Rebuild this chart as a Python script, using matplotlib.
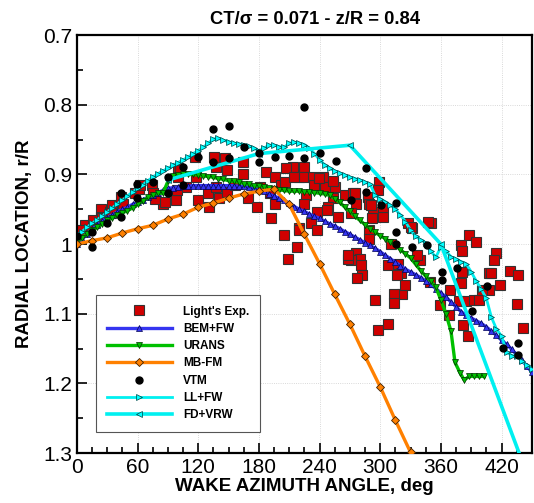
import numpy as np
import matplotlib
matplotlib.use('Agg')
import matplotlib.pyplot as plt

plt.rcParams['font.family'] = ['Liberation Sans', 'DejaVu Sans']

# Light's experiment (azimuth deg, r/R)
exp_psi = [8, 18, 24, 24, 33, 35, 44, 46, 57, 61, 74, 75, 85, 98, 100, 100, 108, 117, 118, 120,
           130, 131, 136, 138, 138, 141, 146, 148, 148, 156, 164, 164, 169, 178, 181, 187, 191, 192,
           196, 196, 202, 205, 209, 214, 218, 220, 220,
           207, 206, 215, 225, 225, 234, 235, 243, 245, 255, 253, 265, 273, 276, 288, 289, 299, 298,
           293, 303, 303, 248, 258, 227, 225, 237, 232, 237, 220, 276, 280, 281, 271, 308, 318, 321,
           327, 331, 339, 350, 380, 381, 388, 395, 415, 413, 428, 436, 408,
           268, 282, 277, 317, 322, 325, 314, 314, 295, 298, 308, 359, 369, 381, 380, 378, 382, 387,
           385, 393, 398, 410, 408, 418, 435, 441, 401, 368, 349,
           239, 253, 275, 291, 292, 247, 271, 289, 289, 311, 268, 347, 330, 336,
           4, 16, 25, 34, 62, 77, 87, 99, 102]
exp_r = [0.973, 0.968, 0.949, 0.961, 0.954, 0.944, 0.932, 0.942, 0.927, 0.921, 0.915, 0.926, 0.942,
         0.937, 0.891, 0.903, 0.918, 0.875, 0.903, 0.937, 0.927, 0.946, 0.875, 0.889, 0.918, 0.934,
         0.877, 0.894, 0.925, 0.915, 0.882, 0.899, 0.934, 0.946, 0.918, 0.896, 0.927, 0.963, 0.903,
         0.942, 0.915, 0.987, 1.021, 0.889, 1.004, 0.903, 0.977,
         0.891, 0.911, 0.903, 0.889, 0.903, 0.903, 0.915, 0.903, 0.918, 0.918, 0.934, 0.930, 0.927,
         0.942, 0.932, 0.942, 0.911, 0.922, 0.954, 0.961, 0.946, 0.946, 0.961, 0.930, 0.942, 0.954,
         0.970, 0.980, 0.980, 1.013, 1.021, 1.030, 1.023, 1.030, 1.028, 1.042, 0.970, 0.977, 1.023,
         0.970, 1.002, 1.010, 0.987, 0.997, 1.013, 1.023, 1.038, 1.044, 1.042,
         1.021, 1.044, 1.049, 1.044, 1.071, 1.059, 1.071, 1.085, 1.080, 1.123, 1.115, 1.088, 1.066,
         1.040, 1.056, 1.081, 1.116, 1.132, 1.081, 1.080, 1.080, 1.042, 1.066, 1.059, 1.086, 1.121,
         1.066, 1.102, 1.054,
         0.905, 0.910, 0.927, 0.944, 0.963, 0.951, 0.956, 0.980, 0.992, 1.000, 1.015, 0.968, 0.975,
         1.015,
         0.980, 0.966, 0.962, 0.956, 0.915, 0.935, 0.939, 0.922, 0.894]

# BEM+FW
bem_psi = list(range(0, 455, 5))
bem_r = [1.000, 0.993, 0.986, 0.979, 0.973, 0.967, 0.962, 0.958, 0.954, 0.950, 0.947, 0.943, 0.940,
         0.936, 0.933, 0.929, 0.926, 0.923, 0.920, 0.919, 0.918, 0.917, 0.917, 0.916, 0.916, 0.916,
         0.916, 0.916, 0.916, 0.916, 0.916, 0.916, 0.917, 0.917, 0.918, 0.919, 0.921, 0.924, 0.928,
         0.931, 0.934, 0.937, 0.941, 0.946, 0.950, 0.953, 0.957, 0.960, 0.963, 0.967, 0.971, 0.974,
         0.978, 0.982, 0.986, 0.990, 0.994, 0.998, 1.002, 1.006, 1.011, 1.016, 1.021, 1.026, 1.031,
         1.036, 1.040, 1.044, 1.048, 1.053, 1.058, 1.064, 1.070, 1.076, 1.083, 1.090, 1.097, 1.102,
         1.106, 1.110, 1.114, 1.119, 1.125, 1.131, 1.138, 1.144, 1.151, 1.159, 1.167, 1.175, 1.184]

# URANS
urans_psi = list(range(0, 375, 5)) + [374, 379, 383, 388, 393, 398, 403]
urans_psi = sorted(set(urans_psi))
urans_r = [0.997, 0.991, 0.985, 0.980, 0.976, 0.971, 0.966, 0.962, 0.958, 0.955, 0.952, 0.948, 0.943,
           0.938, 0.933, 0.929, 0.927, 0.927, 0.910, 0.902, 0.901, 0.900, 0.900, 0.900, 0.901, 0.902,
           0.903, 0.904, 0.906, 0.907, 0.909, 0.910, 0.911, 0.913, 0.914, 0.916, 0.917, 0.918, 0.919,
           0.921, 0.922, 0.923, 0.924, 0.924, 0.924, 0.925, 0.925, 0.926, 0.927, 0.928, 0.930, 0.935,
           0.940, 0.947, 0.953, 0.960, 0.966, 0.972, 0.978, 0.983, 0.988, 0.992, 0.997, 1.002, 1.008,
           1.014, 1.020, 1.029, 1.038, 1.046, 1.053, 1.062, 1.080, 1.100, 1.125,
           1.170, 1.185, 1.195, 1.190, 1.190, 1.190, 1.190]

# MB-FM
mbfm_psi = [0, 15, 30, 45, 60, 75, 90, 105, 120, 135, 150, 165, 180, 195, 210, 225, 240, 255, 270,
            285, 300, 315, 330]
mbfm_r = [1.000, 0.995, 0.991, 0.984, 0.978, 0.973, 0.964, 0.957, 0.947, 0.941, 0.934, 0.928, 0.924,
          0.921, 0.943, 0.986, 1.028, 1.072, 1.115, 1.161, 1.205, 1.253, 1.299]

# VTM
vtm_psi = [0, 15, 15, 30, 44, 44, 59, 59, 75, 90, 90, 105, 105, 120, 135, 135, 150, 150, 165, 180,
           180, 196, 210, 225, 225, 240, 256, 271, 286, 286, 301, 316, 316, 316, 331, 346, 361, 361,
           376, 391, 406, 421, 436, 436]
vtm_r = [0.989, 1.004, 0.983, 0.970, 0.961, 0.927, 0.934, 0.913, 0.911, 0.927, 0.904, 0.915, 0.889,
         0.875, 0.882, 0.835, 0.876, 0.831, 0.861, 0.882, 0.869, 0.875, 0.874, 0.803, 0.877, 0.869,
         0.881, 0.937, 0.891, 0.925, 0.944, 0.941, 0.983, 1.000, 1.004, 1.001, 1.040, 1.052, 1.034,
         1.096, 1.060, 1.149, 1.142, 1.159]

# LL+FW
llfw_psi = list(range(0, 455, 5))
llfw_r = [0.987, 0.982, 0.976, 0.970, 0.965, 0.960, 0.954, 0.948, 0.942, 0.937, 0.931, 0.925, 0.920,
          0.915, 0.909, 0.904, 0.899, 0.895, 0.891, 0.887, 0.883, 0.879, 0.875, 0.870, 0.866, 0.861,
          0.855, 0.849, 0.848, 0.851, 0.853, 0.855, 0.856, 0.857, 0.859, 0.862, 0.866, 0.862, 0.858,
          0.858, 0.860, 0.861, 0.855, 0.854, 0.855, 0.857, 0.862, 0.870, 0.879, 0.886, 0.891, 0.895,
          0.898, 0.901, 0.904, 0.906, 0.908, 0.911, 0.914, 0.930, 0.935, 0.939, 0.944, 0.950, 0.958,
          0.968, 0.980, 0.989, 0.994, 0.998, 1.010, 1.019, 1.004, 1.010, 1.018, 1.022, 1.025, 1.028,
          1.040, 1.053, 1.065, 1.078, 1.105, 1.122, 1.132, 1.155, 1.160, 1.161, 1.168, 1.174, 1.179]

# FD+VRW
fdvrw_psi = [90, 180, 270, 360, 450]
fdvrw_r = [0.908, 0.870, 0.858, 1.000, 1.349]

fig = plt.figure(figsize=(5.34, 5.03), dpi=100)
ax = fig.add_axes([0.144, 0.0994, 0.852, 0.8306])

ax.plot(exp_psi, exp_r, 's', color='#d00000', mec='#333333', mew=0.8, ms=6.8,
        label="Light's Exp.", zorder=2)
ax.plot(bem_psi, bem_r, '-^', color='#3535f0', lw=2.4, mfc='#3535f0', mec='#000050', mew=0.5,
        ms=4.5, label='BEM+FW', zorder=3)
ax.plot(urans_psi, urans_r, '-v', color='#00c000', lw=2.4, mfc='#00c000', mec='#003000', mew=0.5,
        ms=4.5, label='URANS', zorder=3)
ax.plot(mbfm_psi, mbfm_r, '-D', color='#ff8000', lw=2.4, mfc='#ff8000', mec='#402000', mew=0.6,
        ms=4.2, label='MB-FM', zorder=3)
ax.plot(vtm_psi, vtm_r, 'o', color='black', ms=5, label='VTM', zorder=5)
ax.plot(llfw_psi, llfw_r, '->', color='#00f0f0', lw=2.0, mfc='#00ffff', mec='#004040', mew=0.5,
        ms=5, label='LL+FW', zorder=4)
ax.plot(fdvrw_psi, fdvrw_r, '-<', color='#00f0f0', lw=2.6, mfc='#00ffff', mec='#004040', mew=0.5,
        ms=5, label='FD+VRW', zorder=4)

ax.set_xlim(0, 450)
ax.set_ylim(1.3, 0.7)
ax.set_xticks(np.arange(0, 421, 60))
ax.set_xticks(np.arange(0, 451, 15), minor=True)
ax.set_yticks(np.arange(0.7, 1.31, 0.1))
ax.set_yticks(np.arange(0.7, 1.31, 0.05), minor=True)
ax.set_yticklabels(['0.7', '0.8', '0.9', '1', '1.1', '1.2', '1.3'])
ax.tick_params(which='both', direction='in', top=False, right=False, labelsize=15, width=1.2)
ax.tick_params(which='major', length=7)
ax.tick_params(which='minor', length=4)
ax.grid(True, which='major', color='#cccccc', ls=':', lw=0.6)
for s in ax.spines.values():
    s.set_linewidth(1.6)

ax.set_xlabel('WAKE AZIMUTH ANGLE, deg', fontsize=13.5, fontweight='bold', labelpad=1)
ax.set_ylabel('RADIAL LOCATION, r/R', fontsize=13.5, fontweight='bold', labelpad=7)
fig.text(315 / 534, 1 - 20 / 503, 'CT/\u03c3 = 0.071 - z/R = 0.84', ha='center', va='center',
         fontsize=13.2, fontweight='bold')

leg = ax.legend(loc='lower left', bbox_to_anchor=(0.029, 0.036), fancybox=False, framealpha=1,
                edgecolor='#555555', handlelength=5.5, handletextpad=1.0, labelspacing=0.45,
                borderpad=0.9, prop={'weight': 'bold', 'size': 8.5})
leg.get_frame().set_linewidth(0.8)

fig.savefig('out.png', dpi=100)
